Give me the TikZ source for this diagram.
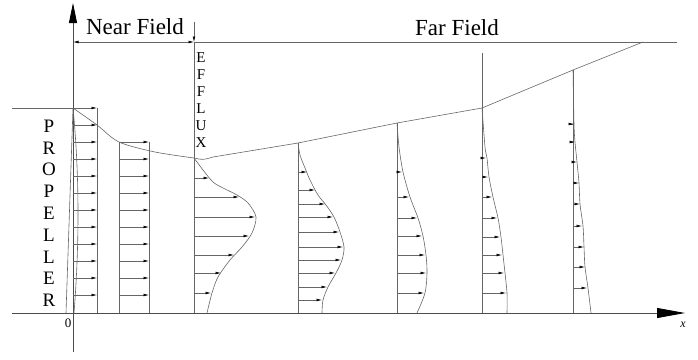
\documentclass[tikz,border=0pt]{standalone}
\usepackage{fontspec}
\setmainfont{Liberation Serif}
\usetikzlibrary{arrows.meta}

\begin{document}
\begin{tikzpicture}[x=1pt,y=-1pt,
    line/.style={draw=black!60, line width=0.6pt},
    flow/.style={line, -{Latex[length=5.5pt,width=2.8pt,black]}},
    axis/.style={draw=black!70, line width=0.8pt},
    title/.style={font=\fontsize{23}{23}\selectfont, inner sep=0pt},
    letter/.style={font=\fontsize{19}{19}\selectfont, inner sep=0pt},
    small letter/.style={font=\fontsize{15}{15}\selectfont, inner sep=0pt}]
\useasboundingbox (0,0) rectangle (698,359);

% axes
\coordinate (O) at (73,313);
\draw[axis, -{Triangle[length=20pt,width=8pt,black]}] (73,352) -- (73,3);
\draw[axis, -{Triangle[length=28pt,width=10pt,black]}] (12,313) -- (685,313);
\node[font=\fontsize{13}{13}\selectfont, inner sep=0pt] (zero) at (68,323) {0};
\node[font=\fontsize{12}{12}\selectfont\itshape, inner sep=0pt] (xlab) at (683,325) {x};

% field dimensions
\coordinate (nl) at (73,42);
\coordinate (nr) at (194,42);
\coordinate (fr) at (677,42);
\draw[line] (nr) -- (fr);
\draw[line, {Latex[length=5.5pt,width=2.8pt,black]}-{Latex[length=5.5pt,width=2.8pt,black]}] (nl) -- (nr);
\draw[flow] (194,22) -- (nr);
\node[title] (near) at (135,27) {Near Field};
\node[title] (far) at (457,28) {Far Field};

% propeller
\coordinate (P) at (73,108);
\draw[line] (P) -- (66,313);
\draw[line] (P) .. controls (80,180) and (79,250) .. (74,313);
\foreach \ch [count=\i] in {P,R,O,P,E,L,L,E,R}
    \node[letter] (prop\i) at (49,{126+21.8*(\i-1)}) {\ch};

% efflux letters
\foreach \ch [count=\i] in {E,F,F,L,U,X}
    \node[small letter] (eff\i) at (201,{58+17*(\i-1)}) {\ch};

% jet boundary
\draw[line] plot[smooth] coordinates {(73,108) (97,125) (119,142) (155,152) (194,158)}
    .. controls (203,160) .. (213,157) -- (298,143) -- (397,123) -- (482,108) -- (573,70) -- (643,42);

% uniform profiles in the near field
\draw[flow] (12,108) -- (97,108);
\draw[line] (97,108) -- (97,313);
\foreach \y in {125,142,...,296}
    \draw[flow] (73,\y) -- (97,\y);
\draw[line] (119,142) -- (119,313) (149,142) -- (149,313);
\foreach \y in {142,159,...,296}
    \draw[flow] (119,\y) -- (149,\y);

% efflux profile
\draw[line] (nr) -- (194,313);
\draw[line] plot[smooth] coordinates {(194,158) (203,170) (213,182) (223,188) (237,195) (248,203)
    (256,217) (252,233) (242,247) (230,260) (218,277) (212,293) (207,313)};
\foreach \y/\t in {178/209,197/239,217/255,236/249,255/234,273/221,293/211}
    \draw[flow] (194,\y) -- (\t,\y);

% far field profiles
\draw[line] (298,143) -- (298,313);
\draw[line] plot[smooth] coordinates {(298,143) (300,155) (305,168) (310,180) (318,195) (326,205)
    (334,217) (340,232) (344,247) (342,260) (336,273) (328,287) (323,300) (322,313)};
\foreach \y/\t in {172/307,190/315,204/325,217/333,232/339,247/343,260/341,273/335,287/327,300/322}
    \draw[flow] (298,\y) -- (\t,\y);

\draw[line] (397,123) -- (397,313);
\draw[line] plot[smooth] coordinates {(397,123) (399,147) (403,172) (410,197) (418,218) (423,236)
    (426,255) (427,273) (425,293) (417,313)};
\foreach \y/\t in {172/402,197/409,218/417,236/422,255/425,273/426,293/424}
    \draw[flow] (397,\y) -- (\t,\y);

\draw[line] (482,53) -- (482,313);
\draw[line] plot[smooth] coordinates {(482,108) (485,147) (487,158) (489,177) (493,197) (498,218)
    (501,237) (503,255) (505,273) (507,293) (507,313)};
\foreach \y/\t in {158/486,177/488,197/492,218/497,237/500,255/502,273/504,293/506}
    \draw[flow] (482,\y) -- (\t,\y);

\draw[line] (573,70) -- (573,313);
\draw[line] plot[smooth] coordinates {(573,70) (574,124) (575,142) (577,162) (579,183) (580,204)
    (583,226) (584,247) (585,267) (588,288) (591,313)};
\foreach \y/\t in {124/574,142/575,162/577,183/579,204/580,226/582,247/584,267/585,288/587}
    \draw[flow] (573,\y) -- (\t,\y);
\end{tikzpicture}
\end{document}
